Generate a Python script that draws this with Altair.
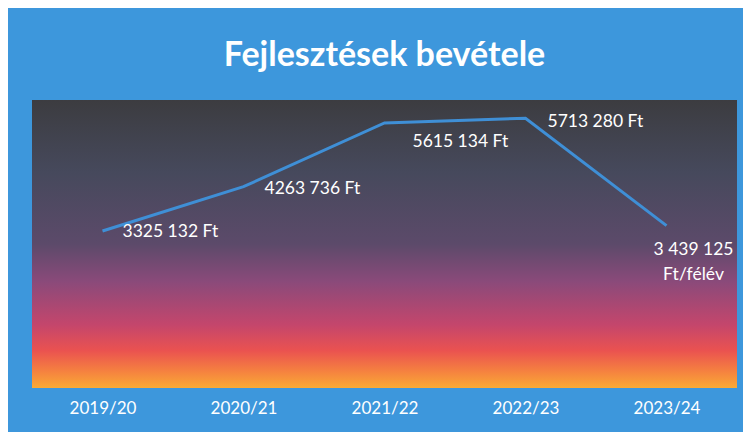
import altair as alt
import pandas as pd

seasons = ["2019/20", "2020/21", "2021/22", "2022/23", "2023/24"]
revenue = [3325132, 4263736, 5615134, 5713280, 3439125]
labels = ["3325 132 Ft", "4263 736 Ft", "5615 134 Ft", "5713 280 Ft", "3 439 125\nFt/félév"]

df = pd.DataFrame({"season": seasons, "revenue": revenue, "label": labels})

W, H = 705, 288
FONT = "Lato"

x = alt.X(
    "season:N",
    sort=seasons,
    scale=alt.Scale(type="point", padding=0.5),
    axis=alt.Axis(
        title=None, labelAngle=0, ticks=False, domain=False, grid=False,
        labelColor="white", labelFont=FONT, labelFontSize=17, labelPadding=12,
    ),
)
y = alt.Y("revenue:Q", scale=alt.Scale(domain=[0, 6100000], nice=False), axis=None)

grad = alt.Gradient(
    gradient="linear", x1=0, x2=0, y1=0, y2=1,
    stops=[
        alt.GradientStop(offset=0.0, color="#3c3c40"),
        alt.GradientStop(offset=0.25, color="#46495c"),
        alt.GradientStop(offset=0.5, color="#5c4a6a"),
        alt.GradientStop(offset=0.63, color="#8a4a7a"),
        alt.GradientStop(offset=0.78, color="#c4466c"),
        alt.GradientStop(offset=0.87, color="#ea5250"),
        alt.GradientStop(offset=0.94, color="#f58040"),
        alt.GradientStop(offset=1.0, color="#f9aa35"),
    ],
)

bg = alt.Chart(alt.Data(values=[{}])).mark_rect(fill=grad).encode(
    x=alt.value(0), x2=alt.value(W), y=alt.value(0), y2=alt.value(H)
)

line = alt.Chart(df).mark_line(color="#3f8fd6", strokeWidth=3).encode(x=x, y=y)

offsets = {
    "2019/20": dict(dx=20, dy=1, align="left"),
    "2020/21": dict(dx=21, dy=2, align="left"),
    "2021/22": dict(dx=28, dy=19, align="left"),
    "2022/23": dict(dx=22, dy=4, align="left"),
    "2023/24": dict(dx=27, dy=24, align="center"),
}

texts = []
for s in seasons:
    o = offsets[s]
    texts.append(
        alt.Chart(df).transform_filter(alt.datum.season == s).mark_text(
            color="white", font=FONT, fontSize=17.5, baseline="middle",
            lineBreak="\n", lineHeight=25, **o
        ).encode(x=x, y=y, text="label:N")
    )

chart = alt.layer(bg, line, *texts).properties(
    width=W, height=H,
    title=alt.TitleParams(
        "Fejlesztések bevétele", font=FONT, fontSize=34, fontWeight="bold",
        color="white", anchor="middle", offset=0, baseline="alphabetic",
    ),
    autosize=alt.AutoSizeParams(type="none"),
    padding={"left": 24, "top": 92, "right": 6, "bottom": 44},
    background="#3d97dc",
).configure_view(stroke=None)

chart.save("out.html", embed_options={"renderer": "svg", "actions": False})
